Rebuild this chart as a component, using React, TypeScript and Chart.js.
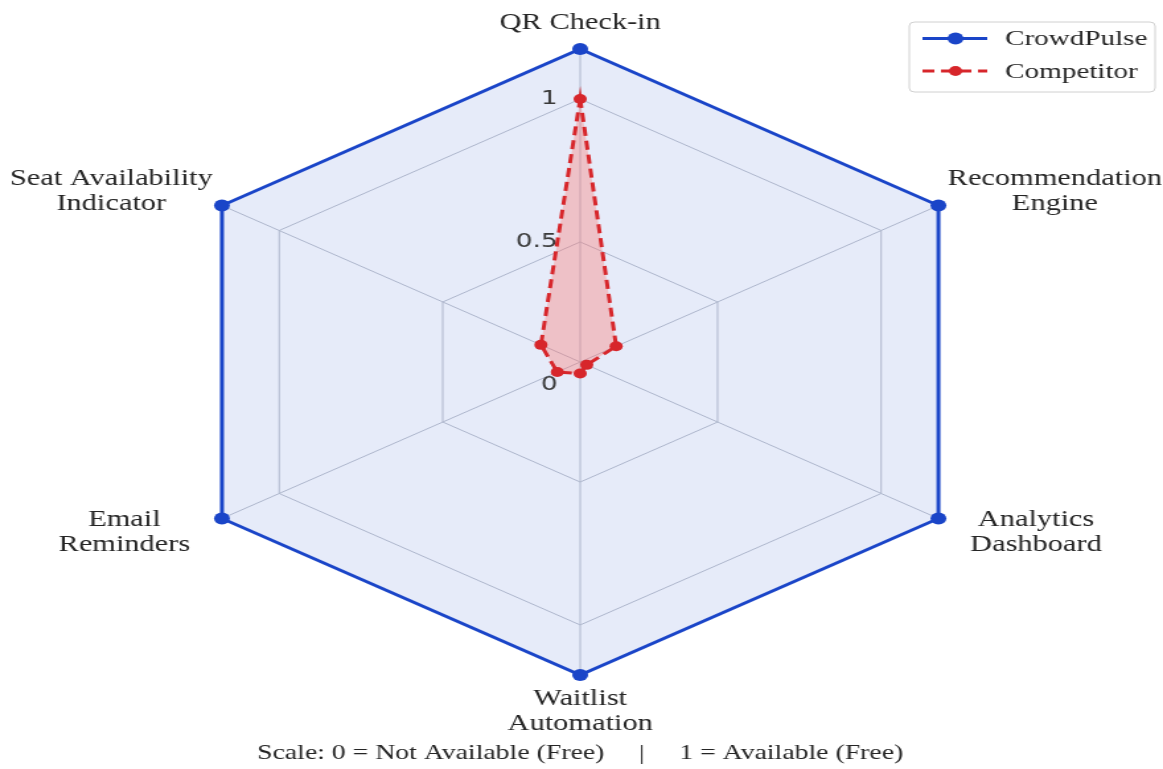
import React, { useEffect, useRef } from 'react';
import { Chart, registerables } from 'chart.js';

Chart.register(...registerables);

// ---- data ----
const CATEGORIES: (string | string[])[] = [
  'QR Check-in',
  ['Recommendation', 'Engine'],
  ['Analytics', 'Dashboard'],
  ['Waitlist', 'Automation'],
  ['Email', 'Reminders'],
  ['Seat Availability', 'Indicator'],
];
const SERIES_NAMES = ['CrowdPulse', 'Competitor'];
const CROWDPULSE = [1.175, 1.175, 1.175, 1.175, 1.175, 1.175];
const COMPETITOR = [1.0, 0.19, 0.1, 0.12, 0.15, 0.2];
const TICK_VALUES = [0, 0.5, 1];
const TICK_LABELS = ['0', '0.5', '1'];
const CAPTION = 'Scale: 0 = Not Available (Free)     |     1 = Available (Free)';

// ---- style ----
const NATIVE_W = 880;
const NATIVE_H = 769;
const BLUE = '#1a45c8';
const RED = '#d7262b';
const GRID = '#bfc3cc';
const SERIF = '"Liberation Serif", "Times New Roman", serif';
const SANS = '"DejaVu Sans", sans-serif';
const TEXT = '#252525';

const decorPlugin = {
  id: 'decor',
  afterDraw(chart: any) {
    const r = chart.scales.r;
    const ctx = chart.ctx;
    ctx.save();

    // radial tick labels
    ctx.font = `20px ${SANS}`;
    ctx.fillStyle = '#3a3a3a';
    ctx.textAlign = 'right';
    ctx.textBaseline = 'middle';
    TICK_VALUES.forEach((v, i) => {
      const d = r.getDistanceFromCenterForValue(v);
      ctx.fillText(TICK_LABELS[i], r.xCenter - 17, r.yCenter - d);
    });

    // point labels (centre-aligned multi-line blocks)
    ctx.font = `23px ${SERIF}`;
    ctx.fillStyle = TEXT;
    ctx.textAlign = 'center';
    const LH = 25;
    const labels = chart.data.labels as (string | string[])[];
    labels.forEach((lab, i) => {
      const lines = Array.isArray(lab) ? lab : [lab];
      const a = r.getIndexAngle(i);
      const sin = Math.sin(a);
      const cos = Math.cos(a);
      const v = r.getPointPosition(i, r.drawingArea);
      const blockH = lines.length * LH;
      let cx: number;
      let top: number;
      if (Math.abs(sin) < 0.01) {
        cx = v.x;
        top = cos > 0 ? v.y - 14 - blockH : v.y + 11;
      } else {
        const maxW = Math.max(...lines.map((l) => ctx.measureText(l).width));
        const gap = 15.5 - cos * 17;
        cx = sin > 0 ? v.x + gap + maxW / 2 : v.x - gap - maxW / 2;
        const cy = v.y - cos * 28;
        top = cy - blockH / 2;
      }
      lines.forEach((l, k) => ctx.fillText(l, cx, top + LH * (k + 0.5)));
    });

    // legend
    const bw = 186;
    const bh = 70;
    const bx = chart.width - 6 - bw;
    const by = 22;
    ctx.beginPath();
    if (ctx.roundRect) ctx.roundRect(bx, by, bw, bh, 4);
    else ctx.rect(bx, by, bw, bh);
    ctx.fillStyle = 'rgba(255,255,255,0.9)';
    ctx.fill();
    ctx.strokeStyle = '#d0d0d0';
    ctx.lineWidth = 1;
    ctx.stroke();
    chart.data.datasets.forEach((ds: any, k: number) => {
      const y = by + 16.5 + k * 32.5;
      ctx.save();
      ctx.strokeStyle = ds.borderColor;
      ctx.lineWidth = ds.borderWidth;
      ctx.setLineDash(ds.borderDash || []);
      ctx.beginPath();
      ctx.moveTo(bx + 10, y);
      ctx.lineTo(bx + 59, y);
      ctx.stroke();
      ctx.setLineDash([]);
      ctx.fillStyle = ds.pointBackgroundColor;
      ctx.beginPath();
      ctx.arc(bx + 35, y, ds.pointRadius, 0, Math.PI * 2);
      ctx.fill();
      ctx.restore();
      ctx.font = `22px ${SERIF}`;
      ctx.fillStyle = TEXT;
      ctx.textAlign = 'left';
      ctx.textBaseline = 'middle';
      ctx.fillText(ds.label, bx + 72.6, y + 1);
    });

    ctx.restore();
  },
};

export default function App() {
  const canvasRef = useRef<HTMLCanvasElement | null>(null);

  useEffect(() => {
    if (!canvasRef.current) return;
    const chart = new Chart(canvasRef.current, {
      type: 'radar',
      data: {
        labels: CATEGORIES,
        datasets: [
          {
            label: SERIES_NAMES[0],
            data: CROWDPULSE,
            borderColor: BLUE,
            backgroundColor: 'rgba(26,69,200,0.11)',
            borderWidth: 3,
            pointRadius: 6,
            pointBackgroundColor: BLUE,
            pointBorderColor: BLUE,
            pointBorderWidth: 0,
            fill: true,
            order: 2,
          },
          {
            label: SERIES_NAMES[1],
            data: COMPETITOR,
            borderColor: RED,
            backgroundColor: 'rgba(255,115,105,0.35)',
            borderWidth: 3,
            borderDash: [9, 5],
            pointRadius: 5,
            pointBackgroundColor: RED,
            pointBorderColor: RED,
            pointBorderWidth: 0,
            fill: true,
            order: 1,
          },
        ],
      },
      options: {
        responsive: false,
        animation: false,
        events: [],
        layout: { padding: { top: 49, bottom: 0, left: 0, right: 2 } },
        scales: {
          r: {
            min: 0.08,
            max: 1.175,
            startAngle: 0,
            ticks: { display: false },
            afterBuildTicks: (scale: any) => {
              scale.ticks = TICK_VALUES.map((v) => ({ value: v }));
            },
            grid: { color: GRID, lineWidth: 1 },
            angleLines: { color: GRID, lineWidth: 1 },
            pointLabels: { display: false },
          },
        },
        plugins: {
          legend: { display: false },
          tooltip: { enabled: false },
          title: {
            display: true,
            position: 'bottom',
            text: CAPTION,
            color: TEXT,
            font: { family: SERIF, size: 21, weight: 'normal', lineHeight: 1.2 },
            padding: { top: 64, bottom: 3 },
          },
        },
      } as any,
      plugins: [decorPlugin],
    });
    return () => chart.destroy();
  }, []);

  return (
    <div style={{ position: 'fixed', left: 0, top: 0, background: '#ffffff' }}>
      <canvas
        ref={canvasRef}
        width={NATIVE_W}
        height={NATIVE_H}
        style={{ display: 'block', width: '1163px', height: '769px' }}
      />
    </div>
  );
}
